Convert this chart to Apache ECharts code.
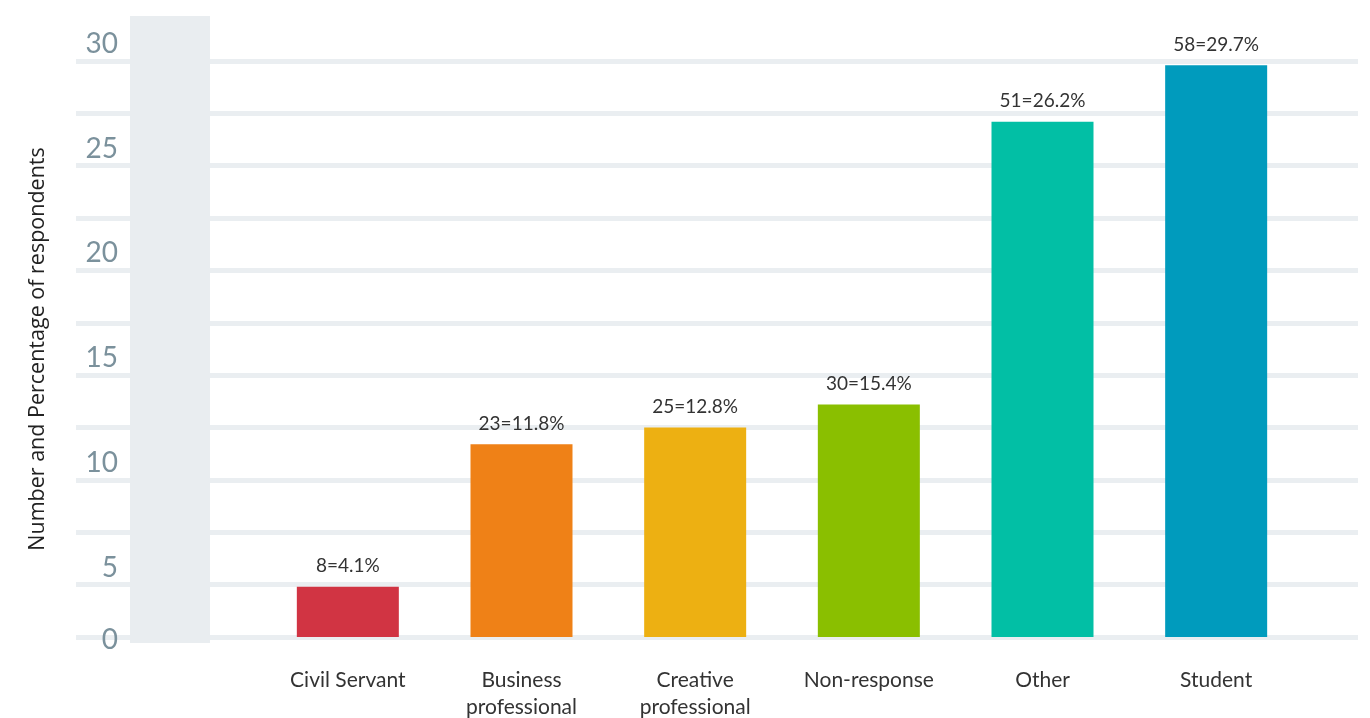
<!DOCTYPE html>
<html>
<head>
<meta charset="utf-8">
<script src="https://cdn.jsdelivr.net/npm/echarts@6/dist/echarts.min.js"></script>
<style>
    html, body { margin: 0; padding: 0; background: #fff; }
    #chart { width: 1370px; height: 718px; }
</style>
</head>
<body>
<div id="chart"></div>
<script>
// categories and bar values (bar heights read against the axis)
const categories = ['Civil Servant', 'Business\nprofessional', 'Creative\nprofessional', 'Non-response', 'Other', 'Student'];
const barValues = [4.9, 11.7, 12.5, 13.6, 27.1, 29.8];
const barLabels = ['8=4.1%', '23=11.8%', '25=12.8%', '30=15.4%', '51=26.2%', '58=29.7%'];
const barColors = ['#d13443', '#ef8117', '#edb012', '#8abf00', '#02bfa5', '#009bbd'];
const yMin = 2.5, yMax = 30, yStep = 2.5;

const chart = echarts.init(document.getElementById('chart'));

// y axis tick labels: bottom line is labelled 0, then every 5
const yLabel = v => {
    if (Math.abs(v - yMin) < 1e-6) return '{z|0}';
    if (Math.abs(v % 5) < 1e-6) return '{a|' + v + '}';
    return '';
};

const option = {
    animation: false,
    textStyle: { fontFamily: 'Lato, "Open Sans", sans-serif' },
    graphic: [{
        // grey band behind the axis labels
        type: 'rect',
        z: 5,
        shape: { x: 130, y: 16, width: 80, height: 627 },
        style: { fill: '#e9edf0' }
    }],
    grid: [
        { left: 76, right: 12, top: 61, bottom: 81, outerBoundsMode: 'none' },
        { left: 261, right: 67, top: 61, bottom: 81, outerBoundsMode: 'none' }
    ],
    xAxis: [
        { gridIndex: 0, type: 'category', data: categories, show: false },
        {
            gridIndex: 1,
            type: 'category',
            data: categories,
            axisLine: { show: false },
            axisTick: { show: false },
            axisLabel: {
                color: '#333',
                fontSize: 21,
                lineHeight: 27,
                margin: 30,
                verticalAlign: 'top',
                interval: 0
            }
        }
    ],
    yAxis: [
        {
            gridIndex: 0,
            type: 'value',
            min: yMin,
            max: yMax,
            interval: yStep,
            name: 'Number and Percentage of respondents',
            nameLocation: 'middle',
            nameGap: 27,
            nameTextStyle: { fontSize: 21.5, color: '#222', fontWeight: 500, fontFamily: '"Open Sans", sans-serif' },
            axisLine: { show: false },
            axisTick: { show: false },
            splitLine: { lineStyle: { color: '#eaeef1', width: 5 } },
            axisLabel: {
                inside: true,
                align: 'right',
                margin: 42,
                color: '#7b919c',
                fontSize: 28,
                formatter: yLabel,
                rich: {
                    a: { fontSize: 28, color: '#7b919c', padding: [0, 0, 34, 0] },
                    z: { fontSize: 28, color: '#7b919c', padding: [6, 0, 0, 0] }
                }
            }
        },
        {
            gridIndex: 1,
            type: 'value',
            min: yMin,
            max: yMax,
            interval: yStep,
            show: false,
            splitLine: { show: false }
        }
    ],
    series: [{
        type: 'bar',
        xAxisIndex: 1,
        yAxisIndex: 1,
        barWidth: 102,
        clip: true,
        z: 6,
        data: barValues.map((v, i) => ({
            value: v,
            itemStyle: { color: barColors[i] }
        })),
        label: {
            show: true,
            position: 'top',
            distance: 11,
            color: '#333',
            fontSize: 19,
            formatter: p => barLabels[p.dataIndex]
        }
    }]
};

chart.setOption(option);
</script>
</body>
</html>
